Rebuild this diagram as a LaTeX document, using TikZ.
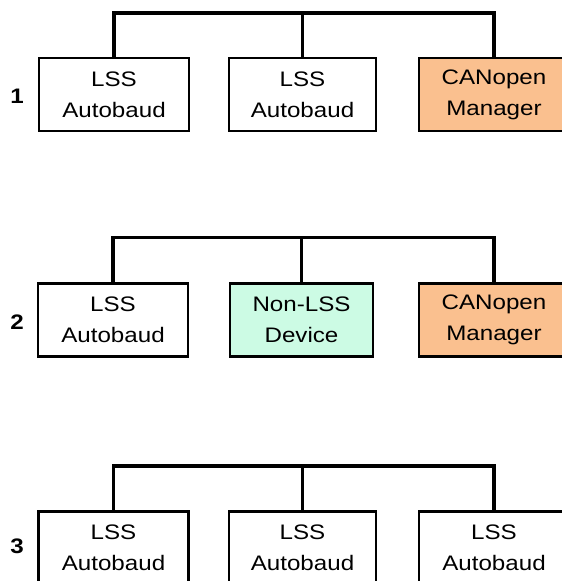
\documentclass[tikz,border=0pt]{standalone}
\usepackage{fontspec}
\newfontfamily\boxfont[FakeStretch=1.15]{Liberation Sans}
\definecolor{mgrorange}{HTML}{FAC08F}
\definecolor{devmint}{HTML}{CCFBE4}
\tikzset{
  unit/.style={draw=black, line width=2.2pt, minimum width=150pt, minimum height=73pt,
    inner sep=0pt, align=center, fill=white,
    font=\boxfont\fontsize{21}{31}\selectfont},
  manager/.style={unit, fill=mgrorange},
  nonlss/.style={unit, fill=devmint, minimum width=143pt},
  bus/.style={line width=3.2pt, line cap=rect},
  rowlabel/.style={inner sep=0pt, font=\boxfont\bfseries\fontsize{21}{24}\selectfont}
}
\begin{document}
\begin{tikzpicture}[x=1pt, y=-1pt]
  \useasboundingbox (0,0) rectangle (562,581);
  \clip (0,0) rectangle (562,581);

  % ---- configuration 1 ----
  \node[rowlabel] (l1) at (17,96) {1};
  \node[unit]    (r1a) at (114,94.5)   {LSS\\Autobaud};
  \node[unit, minimum width=147pt] (r1b) at (302.5,94.5) {LSS\\Autobaud};
  \node[manager] (r1c) at (494,94.5)   {CANopen\\Manager};
  \coordinate (b1) at (114,13);
  \draw[bus] (r1a.north) |- (r1c.north |- b1) -- (r1c.north);
  \draw[bus] (r1b.north) -- (r1b.north |- b1);

  % ---- configuration 2 ----
  \node[rowlabel] (l2) at (17,322) {2};
  \node[unit]    (r2a) at (113,320)    {LSS\\Autobaud};
  \node[nonlss]  (r2b) at (301.5,320)  {Non-LSS\\Device};
  \node[manager] (r2c) at (494,320)    {CANopen\\Manager};
  \coordinate (b2) at (114,237.5);
  \draw[bus] (r2a.north) |- (r2c.north |- b2) -- (r2c.north);
  \draw[bus] (r2b.north) -- (r2b.north |- b2);

  % ---- configuration 3 ----
  \node[rowlabel] (l3) at (17,546) {3};
  \node[unit]    (r3a) at (113.5,548)  {LSS\\Autobaud};
  \node[unit, minimum width=147pt] (r3b) at (302.5,548) {LSS\\Autobaud};
  \node[unit]    (r3c) at (494,548)    {LSS\\Autobaud};
  \coordinate (b3) at (114,466);
  \draw[bus] (r3a.north) |- (r3c.north |- b3) -- (r3c.north);
  \draw[bus] (r3b.north) -- (r3b.north |- b3);
\end{tikzpicture}
\end{document}
